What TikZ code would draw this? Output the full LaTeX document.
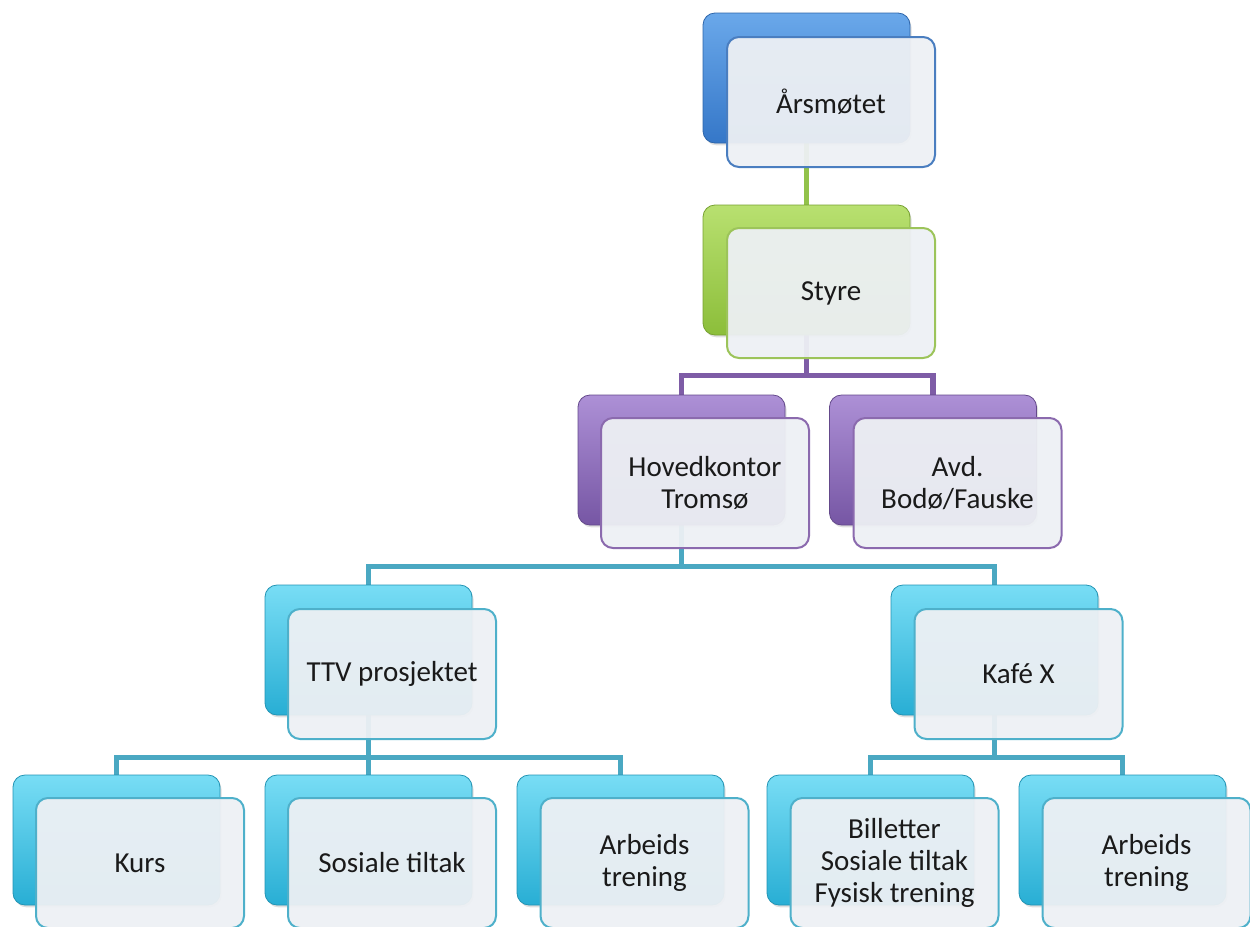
\documentclass[tikz,border=0pt]{standalone}
\usepackage{fontspec}
\setmainfont{Carlito}
\usetikzlibrary{calc,shadows}
\pgfdeclarelayer{bg}
\pgfsetlayers{bg,main}

\definecolor{blhi}{HTML}{6AA8EA}
\definecolor{blmd}{HTML}{3F82D4}
\definecolor{bllo}{HTML}{3577C8}
\definecolor{blln}{HTML}{4A7EC0}
\definecolor{grhi}{HTML}{B8E070}
\definecolor{grmd}{HTML}{9ACB46}
\definecolor{grlo}{HTML}{8CBE3A}
\definecolor{grln}{HTML}{9CC45A}
\definecolor{grcn}{HTML}{92C24A}
\definecolor{puhi}{HTML}{AD90D6}
\definecolor{pumd}{HTML}{8261B0}
\definecolor{pulo}{HTML}{7656A4}
\definecolor{puln}{HTML}{8B6AAE}
\definecolor{pucn}{HTML}{7E5CA6}
\definecolor{tehi}{HTML}{78DDF5}
\definecolor{temd}{HTML}{36BBDF}
\definecolor{telo}{HTML}{28AED4}
\definecolor{teln}{HTML}{4EB0CA}
\definecolor{tecn}{HTML}{4AA8C2}
\definecolor{frontfill}{HTML}{EDF0F4}
\definecolor{textgray}{HTML}{1A1A1A}

\tikzset{
  back/.style={rectangle, rounded corners=6pt, minimum width=103.5pt,
    minimum height=65pt, inner sep=0pt, draw=#1lo!85!black, line width=0.4pt,
    top color=#1hi, middle color=#1md, bottom color=#1lo,
    drop shadow={opacity=0.25, shadow xshift=0.8pt, shadow yshift=-1.2pt}},
  front/.style={rectangle, rounded corners=6pt, minimum width=104pt,
    minimum height=65pt, inner sep=2pt, align=center, draw=#1ln,
    line width=1pt, fill=frontfill, fill opacity=0.95, text opacity=1,
    text=textgray, font=\fontsize{14.5}{16}\selectfont},
  link/.style={draw=#1cn, line width=2.6pt, line join=miter}
}

\begin{document}
\begin{tikzpicture}[x=0.5pt,y=-0.5pt]
    \useasboundingbox (0,0) rectangle (1250,927);
    % top
    \node[back=bl] (arsB) at (806.5,78) {};
    \node[front=bl] (ars) at (831,102) {Årsmøtet};
    \node[back=gr] (styB) at (806.5,270) {};
    \node[front=gr] (sty) at (831,293) {Styre};
    % avdelinger
    \node[back=pu] (hkB) at (681.5,460) {};
    \node[front=pu] (hk) at (705,483) {Hovedkontor\\Tromsø};
    \node[back=pu] (avdB) at (933,460) {};
    \node[front=pu] (avd) at (957.5,483) {Avd.\\Bodø/Fauske};
    % prosjekter
    \node[back=te] (ttvB) at (368.5,650) {};
    \node[front=te] (ttv) at (392,674) {TTV prosjektet};
    \node[back=te] (kafeB) at (994.5,650) {};
    \node[front=te] (kafe) at (1018.5,674) {Kafé X};
    % tiltak
    \node[back=te] (kursB) at (116.5,840) {};
    \node[front=te] (kurs) at (140,863) {Kurs};
    \node[back=te] (sosB) at (368.5,840) {};
    \node[front=te] (sos) at (392,863) {Sosiale tiltak};
    \node[back=te] (arbaB) at (620.5,840) {};
    \node[front=te] (arba) at (644.5,863) {Arbeids\\trening};
    \node[back=te] (bilB) at (870.5,840) {};
    \node[front=te] (bil) at (894.5,863) {Billetter\\Sosiale tiltak\\Fysisk trening};
    \node[back=te] (arbbB) at (1122.5,840) {};
    \node[front=te] (arbb) at (1146.5,863) {Arbeids\\trening};
    \begin{pgfonlayer}{bg}
        \draw[link=gr] (arsB.center) -- (styB.center);
        \draw[link=pu] (styB.center) |- ($(hkB.north)+(0,-19)$) -- (hkB.center);
        \draw[link=pu] (styB.center) |- ($(avdB.north)+(0,-19)$) -- (avdB.center);
        \draw[link=te] (hkB.center) |- ($(ttvB.north)+(0,-18)$) -- (ttvB.center);
        \draw[link=te] (hkB.center) |- ($(kafeB.north)+(0,-18)$) -- (kafeB.center);
        \draw[link=te] (ttvB.center) |- ($(kursB.north)+(0,-17)$) -- (kursB.center);
        \draw[link=te] (ttvB.center) -- (sosB.center);
        \draw[link=te] (ttvB.center) |- ($(arbaB.north)+(0,-17)$) -- (arbaB.center);
        \draw[link=te] (kafeB.center) |- ($(bilB.north)+(0,-17)$) -- (bilB.center);
        \draw[link=te] (kafeB.center) |- ($(arbbB.north)+(0,-17)$) -- (arbbB.center);
    \end{pgfonlayer}
\end{tikzpicture}
\end{document}
